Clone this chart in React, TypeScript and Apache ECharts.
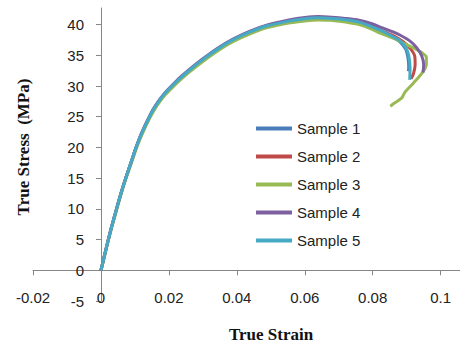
import React, { useEffect, useRef } from "react";
import * as echarts from "echarts";

const seriesNames = ["Sample 1", "Sample 2", "Sample 3", "Sample 4", "Sample 5"];
const seriesColors = ["#4a7ebb", "#be4b48", "#98b954", "#7d60a0", "#46aac5"];

const xTicks = [-0.02, 0, 0.02, 0.04, 0.06, 0.08, 0.1];
const yTicks = [-5, 0, 5, 10, 15, 20, 25, 30, 35, 40];

const sample1: number[][] = [
  [0, 0], [0.001, 2.3], [0.002, 4.6], [0.003, 6.8], [0.004, 8.8], [0.005, 10.8], [0.006, 12.7],
  [0.0073, 15.0], [0.009, 17.8], [0.0104, 20.1], [0.012, 22.3], [0.0144, 25.1], [0.0158, 26.5],
  [0.0174, 27.8], [0.019, 28.9], [0.0213, 30.2], [0.0237, 31.45], [0.0262, 32.65], [0.03, 34.3],
  [0.035, 36.25], [0.039, 37.55], [0.0439, 38.8], [0.049, 39.8], [0.0557, 40.6], [0.06, 40.95],
  [0.064, 41.1], [0.068, 41.0], [0.072, 40.8], [0.076, 40.4], [0.08, 39.6], [0.0822, 39.1],
  [0.085, 38.3], [0.088, 37.2], [0.0897, 36.0], [0.0904, 34.5], [0.0906, 33.0], [0.0905, 32.4],
];
const sample2: number[][] = [
  [0, 0], [0.001, 2.3], [0.002, 4.6], [0.003, 6.8], [0.004, 8.8], [0.005, 10.8], [0.006, 12.7],
  [0.0073, 15.0], [0.009, 17.7], [0.0104, 20.0], [0.012, 22.2], [0.0144, 25.0], [0.0158, 26.4],
  [0.0174, 27.7], [0.019, 28.8], [0.0213, 30.1], [0.0237, 31.35], [0.0262, 32.55], [0.03, 34.2],
  [0.035, 36.15], [0.039, 37.45], [0.0439, 38.7], [0.049, 39.7], [0.0557, 40.5], [0.06, 40.85],
  [0.064, 41.0], [0.068, 40.95], [0.072, 40.75], [0.076, 40.35], [0.08, 39.6], [0.0822, 39.1],
  [0.086, 38.2], [0.089, 37.2], [0.0912, 36.0], [0.0924, 34.8], [0.0925, 33.5], [0.092, 32.0],
  [0.0913, 31.2],
];
const sample3: number[][] = [
  [0, 0], [0.001, 2.2], [0.002, 4.5], [0.003, 6.6], [0.004, 8.6], [0.005, 10.6], [0.006, 12.5],
  [0.0073, 14.8], [0.009, 17.5], [0.0104, 19.8], [0.012, 22.0], [0.0144, 24.8], [0.0158, 26.2],
  [0.0174, 27.5], [0.019, 28.6], [0.0213, 29.9], [0.0237, 31.15], [0.0262, 32.35], [0.03, 34.0],
  [0.035, 35.95], [0.039, 37.25], [0.0439, 38.5], [0.049, 39.5], [0.0557, 40.3], [0.06, 40.6],
  [0.064, 40.75], [0.0675, 40.7], [0.072, 40.4], [0.076, 40.0], [0.08, 39.2], [0.0822, 38.6],
  [0.086, 37.8], [0.089, 37.0], [0.092, 36.2], [0.0945, 35.4], [0.0958, 34.7], [0.0958, 33.6],
  [0.0948, 32.3], [0.092, 30.5], [0.0895, 29.0], [0.0886, 28.1], [0.0872, 27.5], [0.0861, 27.1],
  [0.0852, 26.7],
];
const sample4: number[][] = [
  [0, 0], [0.001, 2.3], [0.002, 4.6], [0.003, 6.8], [0.004, 8.8], [0.005, 10.8], [0.006, 12.7],
  [0.0073, 15.0], [0.009, 17.8], [0.0104, 20.1], [0.012, 22.4], [0.0144, 25.2], [0.0158, 26.6],
  [0.0174, 27.9], [0.019, 29.0], [0.0213, 30.3], [0.0237, 31.6], [0.0262, 32.8], [0.03, 34.45],
  [0.035, 36.4], [0.039, 37.7], [0.0439, 38.95], [0.049, 39.95], [0.0557, 40.8], [0.06, 41.15],
  [0.064, 41.3], [0.068, 41.2], [0.072, 41.0], [0.076, 40.7], [0.08, 40.1], [0.0822, 39.6],
  [0.086, 38.8], [0.088, 38.3], [0.091, 37.3], [0.093, 36.2], [0.0945, 34.8], [0.095, 33.4],
  [0.0948, 32.2],
];
const sample5: number[][] = [
  [0, 0], [0.001, 2.3], [0.002, 4.6], [0.003, 6.8], [0.004, 8.8], [0.005, 10.8], [0.006, 12.7],
  [0.0073, 15.0], [0.009, 17.8], [0.0104, 20.1], [0.012, 22.3], [0.0144, 25.1], [0.0158, 26.5],
  [0.0174, 27.8], [0.019, 28.9], [0.0213, 30.2], [0.0237, 31.45], [0.0262, 32.65], [0.03, 34.3],
  [0.035, 36.25], [0.039, 37.55], [0.0439, 38.8], [0.049, 39.8], [0.0557, 40.6], [0.06, 40.95],
  [0.064, 41.1], [0.068, 41.0], [0.072, 40.8], [0.076, 40.4], [0.08, 39.6], [0.0822, 39.1],
  [0.085, 38.3], [0.088, 37.4], [0.0898, 36.2], [0.0906, 35.0], [0.091, 33.0], [0.0909, 31.0],
];

const allSamples = [sample1, sample2, sample3, sample4, sample5];

export default function App() {
  const ref = useRef<HTMLDivElement>(null);
  useEffect(() => {
    if (!ref.current) return;
    const chart = echarts.init(ref.current, undefined, { renderer: "svg" });
    const axisColor = "#868686";
    const labelStyle = { color: "#222", fontFamily: "Liberation Sans", fontSize: 15 };
    chart.setOption({
      animation: false,
      backgroundColor: "#fff",
      grid: { left: 33, right: 0, top: 8, bottom: 43, containLabel: false, outerBoundsMode: "none" },
      xAxis: {
        type: "value",
        min: -0.02,
        max: 0.1057,
        splitLine: { show: false },
        axisLine: { onZero: true, lineStyle: { color: axisColor, width: 1 } },
        axisTick: { show: true, inside: false, length: 5, customValues: xTicks, lineStyle: { color: axisColor } },
        axisLabel: { ...labelStyle, margin: -11, customValues: xTicks, formatter: (v: number) => String(v) },
      },
      yAxis: {
        type: "value",
        min: -5,
        max: 42.7,
        splitLine: { show: false },
        axisLine: { show: true, onZero: true, lineStyle: { color: axisColor, width: 1 } },
        axisTick: { show: true, inside: false, length: 5, customValues: yTicks, lineStyle: { color: axisColor } },
        axisLabel: { ...labelStyle, margin: -51, customValues: yTicks, formatter: (v: number) => String(v) },
      },
      legend: {
        orient: "vertical",
        left: 251,
        top: 116,
        icon: "rect",
        itemWidth: 36,
        itemHeight: 4,
        itemGap: 13,
        textStyle: { color: "#222", fontFamily: "Liberation Sans", fontSize: 15 },
        data: seriesNames,
      },
      graphic: [
        {
          type: "text",
          x: 271,
          y: 334,
          style: {
            text: "True Strain",
            font: "bold 17px 'Liberation Serif'",
            fill: "#111",
            align: "center",
            verticalAlign: "middle",
            textAlign: "center",
            textVerticalAlign: "middle",
          },
        },
        {
          type: "text",
          x: 23,
          y: 147,
          rotation: Math.PI / 2,
          style: {
            text: "True Stress  (MPa)",
            font: "bold 17px 'Liberation Serif'",
            fill: "#111",
            align: "center",
            verticalAlign: "middle",
            textAlign: "center",
            textVerticalAlign: "middle",
          },
        },
      ],
      series: allSamples.map((d, i) => ({
        name: seriesNames[i],
        type: "line",
        data: d,
        showSymbol: false,
        smooth: 0.3,
        color: seriesColors[i],
        lineStyle: { width: 3, color: seriesColors[i] },
      })),
    });
    return () => chart.dispose();
  }, []);
  return <div ref={ref} style={{ position: "fixed", left: 0, top: 0, width: 460, height: 344 }} />;
}
